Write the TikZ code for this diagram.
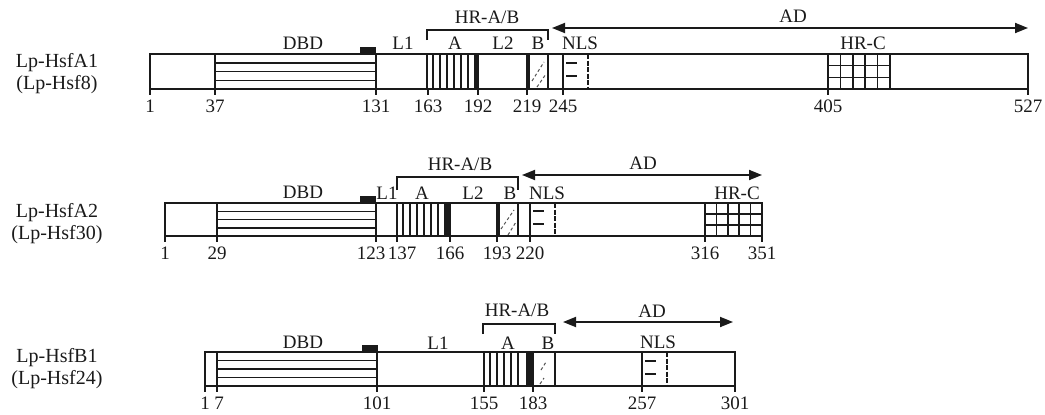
\documentclass[tikz,border=0pt]{standalone}
\usepackage{fontspec}
\setmainfont{Liberation Serif}
\usetikzlibrary{arrows.meta}
\definecolor{ctinta}{HTML}{1A1A1A}
\tikzset{
  barra/.style={draw=ctinta, line width=1.8pt},
  rayas/.style={draw=ctinta, line width=1.5pt},
  gruesa/.style={draw=ctinta, line width=3.2pt},
  negro/.style={fill=ctinta},
  etq/.style={font=\fontsize{19}{21}\selectfont, inner sep=0pt, text=ctinta},
  num/.style={font=\fontsize{19}{21}\selectfont, inner sep=0pt, text=ctinta},
  nombre/.style={font=\fontsize{20}{22}\selectfont, align=center, inner sep=0pt, text=ctinta},
  flecha/.style={{Triangle[length=13pt,width=10pt]}-{Triangle[length=13pt,width=10pt]},
    line width=1.8pt, draw=ctinta},
  llave/.style={line width=1.9pt, draw=ctinta},
  tic/.style={line width=1.5pt, draw=ctinta},
  trama/.style={draw=ctinta!75, line width=1pt, dash pattern=on 3pt off 2.5pt},
  borde/.style={draw=ctinta, line width=1.5pt, dash pattern=on 5pt off 1.5pt},
}

\begin{document}
\begin{tikzpicture}[x=1pt, y=-1pt]
  \useasboundingbox (0,0) rectangle (1045,415);

  % ---------- Lp-HsfA1 ----------
  \node[nombre] (nA1) at (57,74) {Lp-HsfA1\\(Lp-Hsf8)};
  \draw[rayas] foreach \y in {62.75,71.5,80.25} {(215,\y) -- (376,\y)};
  \fill[negro] (360,47) rectangle (376,54);
  \draw[rayas] (427,54) rectangle (478,89);
  \draw[rayas] foreach \x in {433,440,...,470} {(\x,54) -- (\x,89)};
  \draw[gruesa] (476,54) -- (476,89);
  \draw[trama] (532,81) -- (544,62) (537,87) -- (546,74);
  \draw[gruesa] (528,54) -- (528,89);
  \draw[rayas] (548,54) -- (548,89) (563,54) -- (563,89);
  \draw[borde] (588,54) -- (588,89);
  \draw[rayas] (566,63) -- (577,63) (566,76) -- (577,76);
  \draw[rayas] foreach \x in {828,840.4,852.8,865.2,877.6,890} {(\x,54) -- (\x,89)}
    (828,65.7) -- (890,65.7) (828,77.3) -- (890,77.3);
  \draw[barra] (150,54) rectangle (1028,89) (215,54) -- (215,89) (376,54) -- (376,89);
  \foreach \p/\t in {150/1,215/37,376/131,428/163,478/192,527/219,563/245,828/405,1028/527}
    {\draw[tic] (\p,89) -- (\p,95); \node[num] (a1n\t) at (\p,106) {\t};}
  \node[etq] (a1dbd) at (303,43) {DBD};
  \node[etq] (a1l1) at (403,43) {L1};
  \node[etq] (a1a) at (455,43) {A};
  \node[etq] (a1l2) at (503,43) {L2};
  \node[etq] (a1b) at (538,43) {B};
  \node[etq] (a1nls) at (580,43) {NLS};
  \node[etq] (a1hrc) at (863,43) {HR-C};
  \node[etq] (a1hr) at (487,17) {HR-A/B};
  \node[etq] (a1ad) at (793,16) {AD};
  \coordinate (a1k0) at (427,40); \coordinate (a1k1) at (548,40);
  \draw[llave] (a1k0) -- ++(0,-10) -| (a1k1);
  \coordinate (a1d0) at (552,28); \coordinate (a1d1) at (1028,28);
  \draw[flecha] (a1d0) -- (a1d1);

  % ---------- Lp-HsfA2 ----------
  \node[nombre] (nA2) at (57,224) {Lp-HsfA2\\(Lp-Hsf30)};
  \draw[rayas] foreach \y in {211.25,219.5,227.75} {(217,\y) -- (376,\y)};
  \fill[negro] (360,196) rectangle (376,203);
  \draw[rayas] (397,203) rectangle (450,236);
  \draw[rayas] foreach \x in {403,410,...,445} {(\x,203) -- (\x,236)};
  \draw[gruesa] (448,203) -- (448,236);
  \draw[trama] (501,229) -- (514,210) (508,235) -- (516,222);
  \draw[gruesa] (498,203) -- (498,236);
  \draw[rayas] (518,203) -- (518,236) (530,203) -- (530,236);
  \draw[borde] (555,203) -- (555,236);
  \draw[rayas] (533,211) -- (544,211) (533,224) -- (544,224);
  \draw[rayas] foreach \x in {705,716.4,727.8,739.2,750.6} {(\x,203) -- (\x,236)}
    (705,214) -- (762,214) (705,225) -- (762,225);
  \draw[barra] (165,203) rectangle (762,236) (217,203) -- (217,236) (376,203) -- (376,236);
  \foreach \p in {165,217,376,397,450,497,530,705,762}
    {\draw[tic] (\p,236) -- (\p,242);}
  \foreach \p/\t in {165/1,217/29,371/123,402/137,450/166,497/193,530/220,705/316,762/351}
    {\node[num] (a2n\t) at (\p,253) {\t};}
  \node[etq] (a2dbd) at (303,192) {DBD};
  \node[etq] (a2l1) at (387,193) {L1};
  \node[etq] (a2a) at (422,193) {A};
  \node[etq] (a2l2) at (473,193) {L2};
  \node[etq] (a2b) at (510,193) {B};
  \node[etq] (a2nls) at (547,193) {NLS};
  \node[etq] (a2hrc) at (737,193) {HR-C};
  \node[etq] (a2hr) at (460,164) {HR-A/B};
  \node[etq] (a2ad) at (643,163) {AD};
  \coordinate (a2k0) at (397,190); \coordinate (a2k1) at (518,190);
  \draw[llave] (a2k0) -- ++(0,-13) -| (a2k1);
  \coordinate (a2d0) at (522,175); \coordinate (a2d1) at (762,175);
  \draw[flecha] (a2d0) -- (a2d1);

  % ---------- Lp-HsfB1 ----------
  \node[nombre] (nB1) at (57,369) {Lp-HsfB1\\(Lp-Hsf24)};
  \draw[rayas] foreach \y in {360.5,369,377.5} {(217,\y) -- (377,\y)};
  \fill[negro] (362,345) rectangle (378,352);
  \draw[rayas] (484,352) rectangle (533,386);
  \draw[rayas] foreach \x in {490,497,...,522} {(\x,352) -- (\x,386)};
  \fill[negro] (526,352) rectangle (533,386);
  \draw[trama] (541,370) -- (546,362) (540,384) -- (544,378);
  \draw[rayas] (555,352) -- (555,386) (642,352) -- (642,386);
  \draw[borde] (667,352) -- (667,386);
  \draw[rayas] (645,361) -- (656,361) (645,374) -- (656,374);
  \draw[barra] (205,352) rectangle (735,386) (217,352) -- (217,386) (377,352) -- (377,386);
  \foreach \p in {205,217,377,484,533,642,735}
    {\draw[tic] (\p,386) -- (\p,392);}
  \foreach \p/\t in {205/1,219/7,377/101,484/155,533/183,642/257,735/301}
    {\node[num] (b1n\t) at (\p,403) {\t};}
  \node[etq] (b1dbd) at (303,342) {DBD};
  \node[etq] (b1l1) at (438,343) {L1};
  \node[etq] (b1a) at (508,343) {A};
  \node[etq] (b1b) at (548,343) {B};
  \node[etq] (b1nls) at (658,342) {NLS};
  \node[etq] (b1hr) at (517,310) {HR-A/B};
  \node[etq] (b1ad) at (652,311) {AD};
  \coordinate (b1k0) at (483,334); \coordinate (b1k1) at (555,334);
  \draw[llave] (b1k0) -- ++(0,-10) -| (b1k1);
  \coordinate (b1d0) at (563,322); \coordinate (b1d1) at (733,322);
  \draw[flecha] (b1d0) -- (b1d1);
\end{tikzpicture}
\end{document}
